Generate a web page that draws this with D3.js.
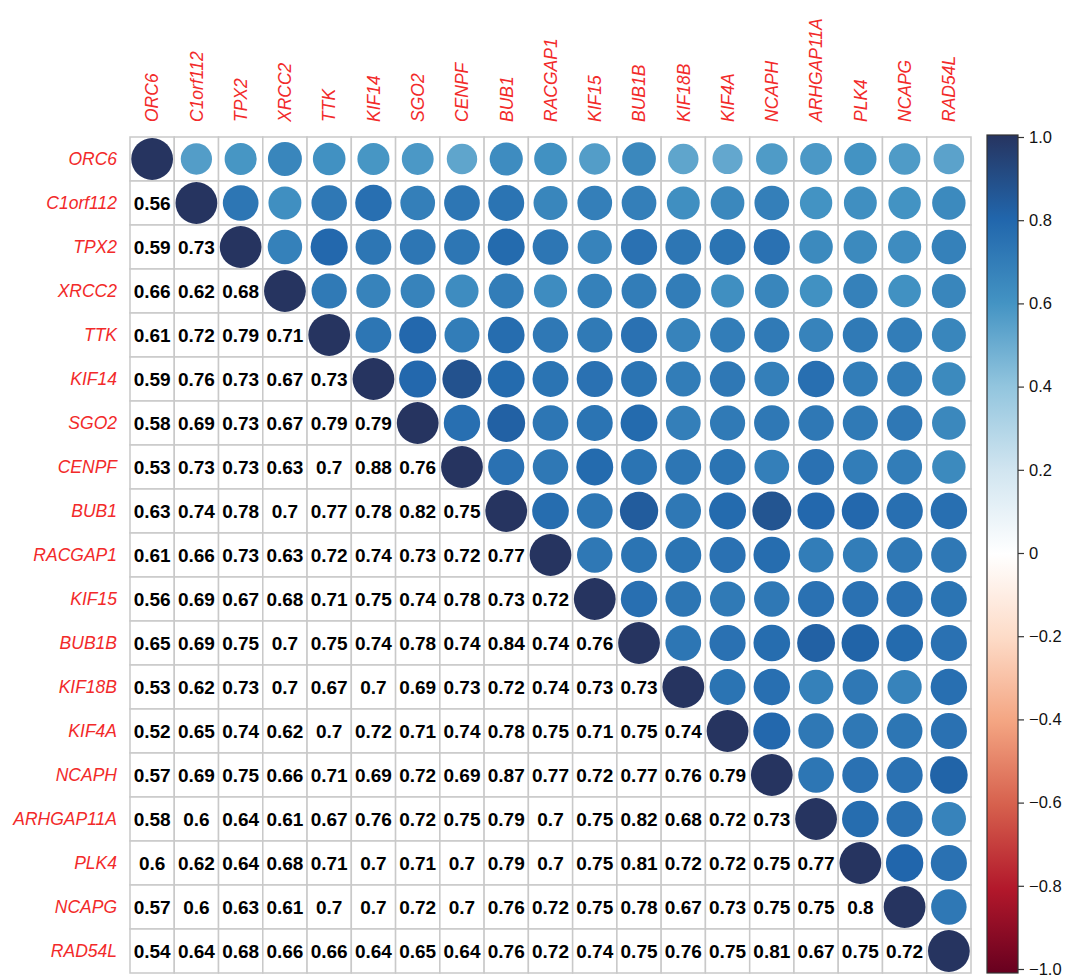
<!DOCTYPE html>
<html>
<head>
<meta charset="utf-8">
<script src="https://cdn.jsdelivr.net/npm/d3@7"></script>
<style>
  body { margin: 0; background: #fff; }
  svg { display: block; font-family: "Liberation Sans", Arial, Helvetica, sans-serif; }
</style>
</head>
<body>
<div id="chart"></div>
<script>
(function() {
    'use strict';

    var genes = ["ORC6", "C1orf112", "TPX2", "XRCC2", "TTK", "KIF14", "SGO2", "CENPF", "BUB1",
        "RACGAP1", "KIF15", "BUB1B", "KIF18B", "KIF4A", "NCAPH", "ARHGAP11A", "PLK4", "NCAPG", "RAD54L"];

    // lower triangle, row i holds correlations with genes 0..i-1
    var lowerRows = [
        [],
        [0.56],
        [0.59, 0.73],
        [0.66, 0.62, 0.68],
        [0.61, 0.72, 0.79, 0.71],
        [0.59, 0.76, 0.73, 0.67, 0.73],
        [0.58, 0.69, 0.73, 0.67, 0.79, 0.79],
        [0.53, 0.73, 0.73, 0.63, 0.7, 0.88, 0.76],
        [0.63, 0.74, 0.78, 0.7, 0.77, 0.78, 0.82, 0.75],
        [0.61, 0.66, 0.73, 0.63, 0.72, 0.74, 0.73, 0.72, 0.77],
        [0.56, 0.69, 0.67, 0.68, 0.71, 0.75, 0.74, 0.78, 0.73, 0.72],
        [0.65, 0.69, 0.75, 0.7, 0.75, 0.74, 0.78, 0.74, 0.84, 0.74, 0.76],
        [0.53, 0.62, 0.73, 0.7, 0.67, 0.7, 0.69, 0.73, 0.72, 0.74, 0.73, 0.73],
        [0.52, 0.65, 0.74, 0.62, 0.7, 0.72, 0.71, 0.74, 0.78, 0.75, 0.71, 0.75, 0.74],
        [0.57, 0.69, 0.75, 0.66, 0.71, 0.69, 0.72, 0.69, 0.87, 0.77, 0.72, 0.77, 0.76, 0.79],
        [0.58, 0.6, 0.64, 0.61, 0.67, 0.76, 0.72, 0.75, 0.79, 0.7, 0.75, 0.82, 0.68, 0.72, 0.73],
        [0.6, 0.62, 0.64, 0.68, 0.71, 0.7, 0.71, 0.7, 0.79, 0.7, 0.75, 0.81, 0.72, 0.72, 0.75, 0.77],
        [0.57, 0.6, 0.63, 0.61, 0.7, 0.7, 0.72, 0.7, 0.76, 0.72, 0.75, 0.78, 0.67, 0.73, 0.75, 0.75, 0.8],
        [0.54, 0.64, 0.68, 0.66, 0.66, 0.64, 0.65, 0.64, 0.76, 0.72, 0.74, 0.75, 0.76, 0.75, 0.81, 0.67, 0.75, 0.72]
    ];

    var legendTicks = [1, 0.8, 0.6, 0.4, 0.2, 0, -0.2, -0.4, -0.6, -0.8, -1];

    // corrplot RdBu palette, low to high
    var palette = ["#67001F", "#B2182B", "#D6604D", "#F4A582", "#FDDBC7", "#FFFFFF",
        "#D1E5F0", "#92C5DE", "#4393C3", "#2166AC", "#263460"];

    var width = 1070, height = 977;
    var gridLeft = 130, gridRight = 971, gridTop = 137, gridBottom = 973;
    var labelColor = "#F22A2A";

    // build full symmetric matrix as cells
    var cells = [];
    genes.forEach(function(rowGene, i) {
        genes.forEach(function(colGene, j) {
            var v;
            if (i === j) v = 1;
            else if (j < i) v = lowerRows[i][j];
            else v = lowerRows[j][i];
            cells.push({row: rowGene, col: colGene, i: i, j: j, value: v});
        });
    });

    var x = d3.scaleBand().domain(genes).range([gridLeft, gridRight]).padding(0);
    var y = d3.scaleBand().domain(genes).range([gridTop, gridBottom]).padding(0);

    var color = d3.scaleLinear()
        .domain(d3.range(palette.length).map(function(k) { return -1 + 2 * k / (palette.length - 1); }))
        .range(palette)
        .interpolate(d3.interpolateRgb);

    var cellSize = Math.min(x.bandwidth(), y.bandwidth());
    var radius = function(v) { return 0.95 * Math.sqrt(Math.abs(v)) / 2 * cellSize; };

    var svg = d3.select("#chart").append("svg")
        .attr("width", width)
        .attr("height", height);

    svg.append("rect")
        .attr("width", width).attr("height", height)
        .attr("fill", "#fff");

    // grid cells
    svg.append("g")
        .selectAll("rect")
        .data(cells)
        .enter().append("rect")
        .attr("x", d => x(d.col))
        .attr("y", d => y(d.row))
        .attr("width", x.bandwidth())
        .attr("height", y.bandwidth())
        .attr("fill", "#fff")
        .attr("stroke", "#c9c9c9")
        .attr("stroke-width", 1.5);

    // circles on diagonal and upper triangle
    svg.append("g")
        .selectAll("circle")
        .data(cells.filter(d => d.j >= d.i))
        .enter().append("circle")
        .attr("cx", d => x(d.col) + x.bandwidth() / 2)
        .attr("cy", d => y(d.row) + y.bandwidth() / 2)
        .attr("r", d => radius(d.value))
        .attr("fill", d => color(d.value));

    // numbers in lower triangle
    svg.append("g")
        .selectAll("text")
        .data(cells.filter(d => d.j < d.i))
        .enter().append("text")
        .attr("x", d => x(d.col) + x.bandwidth() / 2)
        .attr("y", d => y(d.row) + y.bandwidth() / 2)
        .attr("dy", "0.36em")
        .attr("text-anchor", "middle")
        .style("font-size", "19px")
        .style("font-weight", "bold")
        .attr("fill", "#000")
        .text(d => String(d.value));

    // row labels
    svg.append("g")
        .selectAll("text")
        .data(genes)
        .enter().append("text")
        .attr("x", gridLeft - 13)
        .attr("y", d => y(d) + y.bandwidth() / 2)
        .attr("dy", "0.36em")
        .attr("text-anchor", "end")
        .style("font-size", "17.5px")
        .style("font-style", "italic")
        .attr("fill", labelColor)
        .text(d => d);

    // column labels
    svg.append("g")
        .selectAll("text")
        .data(genes)
        .enter().append("text")
        .attr("transform", d => "translate(" + (x(d) + x.bandwidth() / 2) + "," + (gridTop - 15) + ") rotate(-90)")
        .attr("dy", "0.36em")
        .attr("text-anchor", "start")
        .style("font-size", "17.5px")
        .style("font-style", "italic")
        .attr("fill", labelColor)
        .text(d => d);

    // colour legend
    var barLeft = 987, barWidth = 31, barTop = 135, barBottom = 973;
    var legendScale = d3.scaleLinear().domain([-1, 1]).range([969, 137]);

    var grad = svg.append("defs").append("linearGradient")
        .attr("id", "corrGrad")
        .attr("x1", 0).attr("y1", 1).attr("x2", 0).attr("y2", 0);
    grad.selectAll("stop")
        .data(palette)
        .enter().append("stop")
        .attr("offset", (d, k) => (k / (palette.length - 1) * 100) + "%")
        .attr("stop-color", d => d);

    svg.append("rect")
        .attr("x", barLeft)
        .attr("y", barTop)
        .attr("width", barWidth)
        .attr("height", barBottom - barTop)
        .attr("fill", "url(#corrGrad)")
        .attr("stroke", "#333")
        .attr("stroke-width", 1.2);

    var legendAxis = d3.axisRight(legendScale)
        .tickValues(legendTicks)
        .tickSize(6)
        .tickPadding(5)
        .tickFormat(function(v) {
            if (v === 0) return "0";
            var s = Math.abs(v) === 1 ? Math.abs(v).toFixed(1) : String(Math.abs(v));
            return v < 0 ? "\u2212" + s : s;
        });

    var axisG = svg.append("g")
        .attr("transform", "translate(" + (barLeft + barWidth) + ",0)")
        .call(legendAxis);
    axisG.select(".domain").remove();
    axisG.selectAll("line").attr("stroke", "#333").attr("stroke-width", 1.2);
    axisG.selectAll("text")
        .attr("fill", "#111")
        .style("font-size", "16.5px")
        .style("font-family", "'Liberation Sans', Arial, Helvetica, sans-serif");
})();
</script>
</body>
</html>
